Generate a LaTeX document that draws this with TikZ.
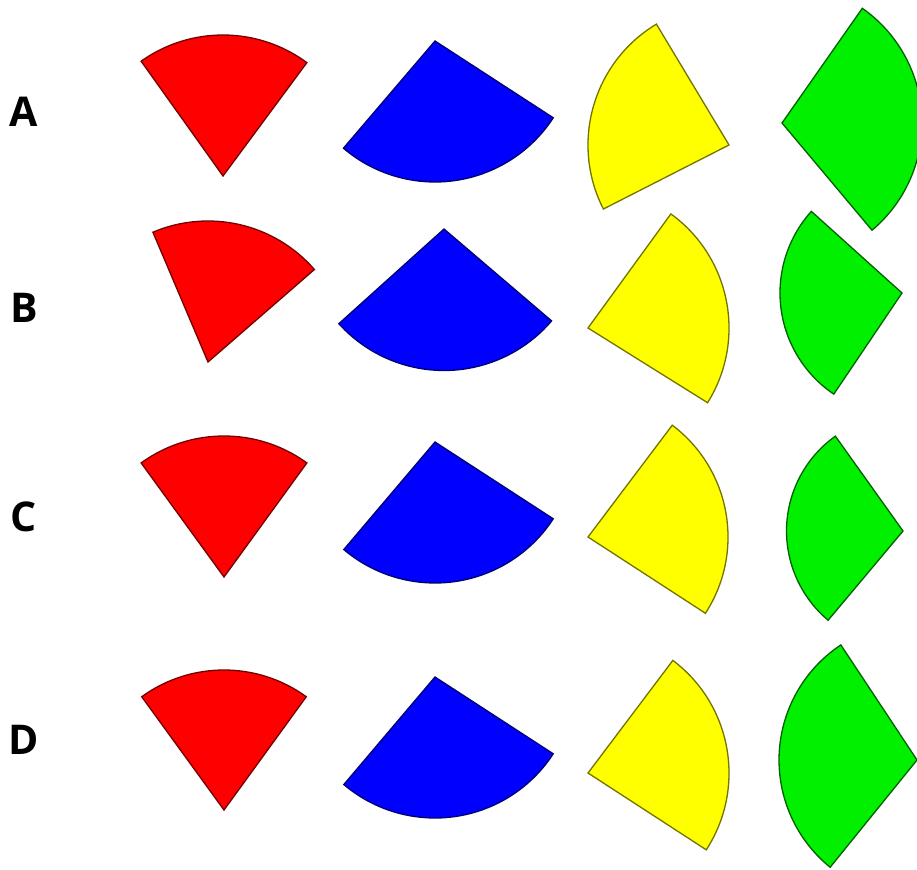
\documentclass[tikz,border=0pt]{standalone}
\usepackage{fontspec}
\setsansfont{Open Sans}
\usepackage{tikz}
\definecolor{wedgered}{RGB}{255,0,0}
\definecolor{wedgeblue}{RGB}{0,0,255}
\definecolor{wedgeyellow}{RGB}{255,255,0}
\definecolor{wedgegreen}{RGB}{0,240,0}
\usetikzlibrary{positioning}

\begin{document}
\begin{tikzpicture}[x=1pt, y=1pt,
    rowlabel/.style={font=\sffamily\bfseries\fontsize{41}{41}\selectfont, text=black, inner sep=0pt},
    redpart/.style={fill=wedgered, draw=wedgered!45!black, line width=1.3pt},
    bluepart/.style={fill=wedgeblue, draw=wedgeblue!45!black, line width=1.3pt},
    yellowpart/.style={fill=wedgeyellow, draw=wedgeyellow!45!black, line width=1.3pt},
    greenpart/.style={fill=wedgegreen, draw=wedgegreen!40!black, line width=1.3pt}]
\useasboundingbox (0,0) rectangle (917,-869);
\clip (0,0) rectangle (917,-869);
% Row labels
\foreach \lab/\ypos in {A/112,B/308,C/517,D/740} {
    \node[rowlabel] (lab\lab) at (24,-\ypos) {\lab};
}
% Wedges: style / apex x / apex y / radius / start / end
\foreach \st/\ax/\ay/\r/\a/\b in {
    redpart/223/176/141/53.5/125.5,
    redpart/208/362/141/41/113,
    redpart/224/577/141/54/126,
    redpart/224/810/140/54/126,
    bluepart/435/41/141/229.5/327,
    bluepart/444/229/141.5/222/319.5,
    bluepart/435/442/141/229.7/327,
    bluepart/435/677/141/229.7/327,
    yellowpart/729/145/141/121/207,
    yellowpart/588/328/141/-32/54,
    yellowpart/588/537/140/-33/53,
    yellowpart/588/773/141/-33/53,
    greenpart/782/123/140/-50/55,
    greenpart/902/293/122/138/236,
    greenpart/903/531/116.5/125.5/230,
    greenpart/917/760/138/123.5/231} {
    \draw[\st] (\ax,-\ay) -- ++(\a:\r) arc[start angle=\a, end angle=\b, radius=\r] -- cycle;
}
\end{tikzpicture}
\end{document}
